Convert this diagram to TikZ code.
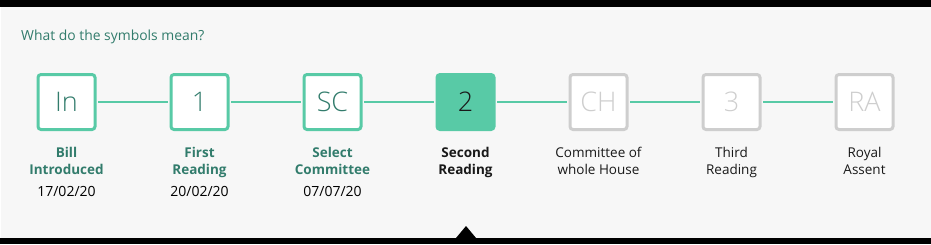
\documentclass[tikz,border=0pt]{standalone}
\usepackage{fontspec}
\setmainfont{Open Sans}
\newfontfamily\lightfont{Open Sans Light}
\usetikzlibrary{positioning}
\definecolor{stagegreen}{RGB}{88,202,166}
\definecolor{stageteal}{RGB}{50,124,108}
\definecolor{stagegrey}{RGB}{206,206,206}
\definecolor{pagegrey}{RGB}{247,247,247}

\begin{document}
\begin{tikzpicture}[x=1pt, y=-1pt,
    stagebox/.style={line width=3pt, rounded corners=3pt, minimum width=57pt, minimum height=55pt, inner sep=0pt, font=\lightfont\fontsize{27}{27}\selectfont},
    donebox/.style={stagebox, draw=stagegreen, fill=white, text=stageteal},
    nowbox/.style={stagebox, draw=stagegreen, fill=stagegreen, text=black!90},
    todobox/.style={stagebox, draw=stagegrey, fill=white, text=stagegrey},
    stagelabel/.style={below=16pt of #1, inner sep=0pt, align=center, font=\fontsize{13.5}{17}\selectfont},
    stagedate/.style={anchor=base, inner sep=0pt, font=\fontsize{14}{17}\selectfont},
    stageline/.style={draw=stagegreen, line width=1.6pt, shorten <=1.5pt, shorten >=1.5pt}]
    \useasboundingbox (0,0) rectangle (931,244);
    \fill[pagegrey] (1,7) rectangle (931,238);
    \fill[black] (0,0) rectangle (931,7);
    \fill[black] (0,238) rectangle (931,244);
    \fill[black] (456,238) -- (466,226) -- (476,238) -- cycle;

    \node[anchor=base west, inner sep=0pt, text=stageteal, font=\fontsize{13.9}{16}\selectfont] (title) at (21,40) {What do the symbols mean?};

    % stages
    \node[donebox] (intro) at (66.5,102) {In};
    \node[donebox] (first) at (199.5,102) {1};
    \node[donebox] (select) at (332.5,102) {SC};
    \node[nowbox] (second) at (465.5,102) {2};
    \node[todobox] (whole) at (598.5,102) {CH};
    \node[todobox] (third) at (731.5,102) {3};
    \node[todobox] (royal) at (864.5,102) {RA};

    \path[stageline] (intro) -- (first);
    \path[stageline] (first) -- (select);
    \path[stageline] (select) -- (second);
    \path[stageline] (second) -- (whole);
    \path[stageline] (whole) -- (third);
    \path[stageline] (third) -- (royal);

    % labels
    \node[stagelabel=intro, text=stageteal] (introlbl) {\bfseries Bill\\\bfseries Introduced};
    \node[stagelabel=first, text=stageteal] (firstlbl) {\bfseries First\\\bfseries Reading};
    \node[stagelabel=select, text=stageteal] (selectlbl) {\bfseries Select\\\bfseries Committee};
    \node[stagelabel=second, text=black!90] (secondlbl) {\bfseries Second\\\bfseries Reading};
    \node[stagelabel=whole, text=black!90] (wholelbl) {Committee of\\whole House};
    \node[stagelabel=third, text=black!90] (thirdlbl) {Third\\Reading};
    \node[stagelabel=royal, text=black!90] (royallbl) {Royal\\Assent};

    \node[stagedate] (introdate) at (66.5,196) {17/02/20};
    \node[stagedate] (firstdate) at (199.5,196) {20/02/20};
    \node[stagedate] (selectdate) at (332.5,196) {07/07/20};
\end{tikzpicture}
\end{document}
